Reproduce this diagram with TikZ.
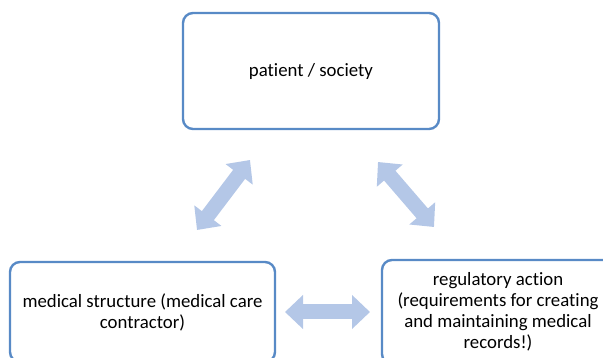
\documentclass[tikz,border=0pt]{standalone}
\usepackage{fontspec}
\setmainfont{Carlito}[Ligatures={NoCommon}]
\usetikzlibrary{arrows.meta}
\definecolor{boxline}{RGB}{88,138,198}
\definecolor{arrowfill}{RGB}{180,199,231}
\tikzset{
  box/.style={draw=boxline, line width=2.4pt, rounded corners=10pt, fill=white,
    align=center, font=\fontsize{18.8}{21}\selectfont, inner sep=0pt},
  bigarrow/.style={draw=arrowfill, line width=15pt,
    {Triangle[length=18pt,width=33pt]}-{Triangle[length=18pt,width=33pt]}}
}
\begin{document}
\begin{tikzpicture}[x=1pt,y=-1pt]
\useasboundingbox (0,0) rectangle (603,358);
\clip (0,0) rectangle (603,358);
\node[box, minimum width=256pt, minimum height=116pt] (ps) at (311,71) {patient / society};
\node[box, minimum width=265pt, minimum height=100pt] (ms) at (142.5,312) {medical structure (medical care\\contractor)};
\node[box, minimum width=232pt, minimum height=104pt] (ra) at (498,312) {regulatory action\\(requirements for creating\\and maintaining medical\\records!)};
\coordinate (a1) at (197,230);
\coordinate (a2) at (250,160);
\coordinate (b1) at (378,162);
\coordinate (b2) at (434,227);
\coordinate (c1) at (285,312);
\coordinate (c2) at (370,312);
\draw[bigarrow] (a1) -- (a2);
\draw[bigarrow] (b1) -- (b2);
\draw[bigarrow] (c1) -- (c2);
\end{tikzpicture}
\end{document}
